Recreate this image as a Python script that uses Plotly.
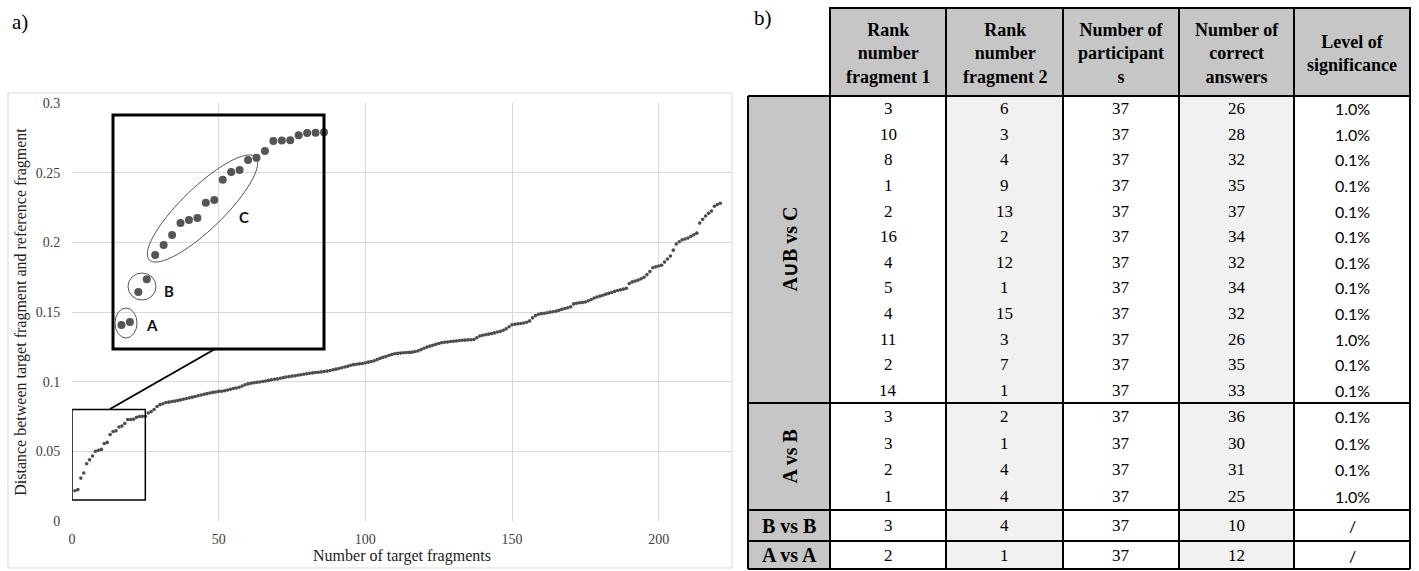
import math
import plotly.graph_objects as go

# ---------------- data ----------------
fragment_index = list(range(1, 222))
distance = [
    0.0217, 0.0225, 0.0308, 0.0344, 0.0411, 0.0439, 0.0467, 0.0500, 0.0508, 0.0514,
    0.0556, 0.0564, 0.0620, 0.0642, 0.0647, 0.0675, 0.0681, 0.0700, 0.0728, 0.0729,
    0.0730, 0.0744, 0.0750, 0.0751, 0.0752,
    0.0775, 0.0785, 0.0800, 0.0822, 0.0835, 0.0842, 0.0850, 0.0853, 0.0858, 0.0860,
    0.0864, 0.0869, 0.0874, 0.0879, 0.0884, 0.0889, 0.0894, 0.0899, 0.0904, 0.0909,
    0.0914, 0.0919, 0.0923, 0.0926, 0.0930,
    0.0931, 0.0935, 0.0940, 0.0946, 0.0951, 0.0955, 0.0960, 0.0969, 0.0978, 0.0984,
    0.0989, 0.0992, 0.0995, 0.0998, 0.1001, 0.1005, 0.1009, 0.1013, 0.1017, 0.1020,
    0.1025, 0.1029, 0.1033, 0.1036, 0.1040,
    0.1043, 0.1046, 0.1050, 0.1053, 0.1056, 0.1060, 0.1063, 0.1066, 0.1068, 0.1070,
    0.1073, 0.1076, 0.1080, 0.1085, 0.1090, 0.1095, 0.1100, 0.1105, 0.1110, 0.1118,
    0.1122, 0.1125, 0.1128, 0.1130, 0.1135,
    0.1140, 0.1145, 0.1150, 0.1158, 0.1167, 0.1174, 0.1180, 0.1188, 0.1195, 0.1200,
    0.1203, 0.1205, 0.1207, 0.1209, 0.1210, 0.1212, 0.1216, 0.1221, 0.1230, 0.1240,
    0.1248, 0.1255, 0.1261, 0.1268, 0.1274,
    0.1279, 0.1283, 0.1285, 0.1288, 0.1290, 0.1292, 0.1295, 0.1297, 0.1298, 0.1300,
    0.1301, 0.1303, 0.1315, 0.1328, 0.1333, 0.1337, 0.1341, 0.1345, 0.1350, 0.1356,
    0.1361, 0.1369, 0.1379, 0.1394, 0.1408,
    0.1412, 0.1415, 0.1418, 0.1421, 0.1426, 0.1436, 0.1458, 0.1474, 0.1484, 0.1488,
    0.1491, 0.1495, 0.1499, 0.1502, 0.1506, 0.1512, 0.1519, 0.1525, 0.1530, 0.1537,
    0.1558, 0.1563, 0.1566, 0.1569, 0.1572,
    0.1580, 0.1590, 0.1600, 0.1608, 0.1614, 0.1620, 0.1628, 0.1634, 0.1640, 0.1648,
    0.1654, 0.1659, 0.1664, 0.1670, 0.1705, 0.1716, 0.1722, 0.1729, 0.1738, 0.1749,
    0.1768, 0.1790, 0.1818, 0.1824, 0.1830,
    0.1836, 0.1858, 0.1880, 0.1902, 0.1944, 0.1988, 0.2004, 0.2018, 0.2024, 0.2031,
    0.2043, 0.2054, 0.2066, 0.2138, 0.2165, 0.2189, 0.2208, 0.2224, 0.2259, 0.2272,
    0.2281,
]
inset_count = 25
x_ticks = [0, 50, 100, 150, 200]

table_headers = ["Rank<br>number<br>fragment 1", "Rank<br>number<br>fragment 2",
                 "Number of<br>participant<br>s", "Number of<br>correct<br>answers",
                 "Level of<br>significance"]
groups = ["A\u222aB vs C", "A vs B", "B vs B", "A vs A"]
group_sizes = [12, 4, 1, 1]
rank_fragment_1 = [3, 10, 8, 1, 2, 16, 4, 5, 4, 11, 2, 14, 3, 3, 2, 1, 3, 2]
rank_fragment_2 = [6, 3, 4, 9, 13, 2, 12, 1, 15, 3, 7, 1, 2, 1, 4, 4, 4, 1]
participants = [37, 37, 37, 37, 37, 37, 37, 37, 37, 37, 37, 37, 37, 37, 37, 37, 37, 37]
correct_answers = [26, 28, 32, 35, 37, 34, 32, 34, 32, 26, 35, 33, 36, 30, 31, 25, 10, 12]
significance = ["1.0%", "1.0%", "0.1%", "0.1%", "0.1%", "0.1%", "0.1%", "0.1%", "0.1%",
                "1.0%", "0.1%", "0.1%", "0.1%", "0.1%", "0.1%", "1.0%", "/", "/"]

# ---------------- helpers ----------------
W, H = 1419, 571
def fx(p):
    return p / W
def fy(p):
    return 1 - p / H

SERIF = "Liberation Serif, Times New Roman, serif"
SANS = "Lato, Liberation Sans, sans-serif"
GRID = "#d9d9d9"

def note(text, x, y, font, **kw):
    d = dict(text=text, x=fx(x), y=fy(y), xref="paper", yref="paper", showarrow=False,
             xanchor="center", yanchor="middle", font=font)
    d.update(kw)
    return d

fig = go.Figure()
fig.add_trace(go.Scatter(x=fragment_index, y=distance, mode="markers",
                         marker=dict(size=3.6, color="#4d4d4d"),
                         xaxis="x", yaxis="y", showlegend=False))
fig.add_trace(go.Scatter(x=fragment_index[:inset_count], y=distance[:inset_count],
                         mode="markers", marker=dict(size=8, color="#555555"),
                         xaxis="x2", yaxis="y2", showlegend=False, cliponaxis=False))

shapes = []
annotations = []

# outer chart border
shapes.append(dict(type="rect", xref="paper", yref="paper", x0=fx(8), x1=fx(732),
                   y0=fy(568), y1=fy(93), line=dict(color=GRID, width=1), layer="below"))
# small zoom box in data coords
shapes.append(dict(type="rect", xref="x", yref="y", x0=0, x1=25, y0=0.015, y1=0.08,
                   line=dict(color="black", width=1.5)))
# connector line
shapes.append(dict(type="line", xref="paper", yref="paper", x0=fx(110), y0=fy(409),
                   x1=fx(215), y1=fy(349), line=dict(color="black", width=2)))
# inset border
shapes.append(dict(type="rect", xref="paper", yref="paper", x0=fx(113), x1=fx(324),
                   y0=fy(349), y1=fy(115), line=dict(color="black", width=3)))
# A and B circles
shapes.append(dict(type="circle", xref="paper", yref="paper", x0=fx(115), x1=fx(137),
                   y0=fy(338), y1=fy(308), line=dict(color="#555555", width=1)))
shapes.append(dict(type="circle", xref="paper", yref="paper", x0=fx(128), x1=fx(156),
                   y0=fy(300), y1=fy(273), line=dict(color="#555555", width=1)))
# C ellipse (rotated) as a path
cx, cy, a, b, th = 202.5, 208.5, 74.0, 21.0, math.radians(44)
pts = []
for k in range(73):
    t = 2 * math.pi * k / 72
    ex = cx + a * math.cos(t) * math.cos(th) + b * math.sin(t) * math.sin(th)
    ey = cy - a * math.cos(t) * math.sin(th) + b * math.sin(t) * math.cos(th)
    pts.append(f"{fx(ex):.5f},{fy(ey):.5f}")
shapes.append(dict(type="path", xref="paper", yref="paper",
                   path="M " + " L ".join(pts) + " Z", line=dict(color="#555555", width=1)))

for txt, x, y in [("A", 152, 325), ("B", 169, 291), ("C", 244, 217)]:
    annotations.append(note(f"<b>{txt}</b>", x, y, dict(family=SANS, size=15, color="#111")))

annotations.append(note("a)", 10, 22, dict(family=SERIF, size=21, color="black"), xanchor="left"))
annotations.append(note("b)", 752, 18, dict(family=SERIF, size=21, color="black"), xanchor="left"))

# ---------------- table ----------------
col_edges = [748, 830, 946, 1063, 1179, 1294, 1410]
head_top, head_bot = 8, 96
group_edges = [96, 403, 510, 541, 569]
HEAD_FILL = "#c6c6c6"
LW = 2

for ci in range(1, 6):
    fill = "#f1f1f1" if ci in (2, 4) else "white"
    shapes.append(dict(type="rect", xref="paper", yref="paper", x0=fx(col_edges[ci]),
                       x1=fx(col_edges[ci + 1]), y0=fy(group_edges[-1]), y1=fy(group_edges[0]),
                       fillcolor=fill, line=dict(width=0), layer="below"))
shapes.append(dict(type="rect", xref="paper", yref="paper", x0=fx(col_edges[0]), x1=fx(col_edges[1]),
                   y0=fy(group_edges[-1]), y1=fy(group_edges[0]), fillcolor=HEAD_FILL,
                   line=dict(width=0), layer="below"))
for ci in range(1, 6):
    shapes.append(dict(type="rect", xref="paper", yref="paper", x0=fx(col_edges[ci]),
                       x1=fx(col_edges[ci + 1]), y0=fy(head_bot), y1=fy(head_top),
                       fillcolor=HEAD_FILL, line=dict(color="black", width=LW), layer="below"))
    annotations.append(note(f"<b>{table_headers[ci - 1]}</b>",
                            (col_edges[ci] + col_edges[ci + 1]) / 2, (head_top + head_bot) / 2 + 1,
                            dict(family=SERIF, size=18, color="black")))
for e in col_edges:
    shapes.append(dict(type="line", xref="paper", yref="paper", x0=fx(e), x1=fx(e),
                       y0=fy(group_edges[-1]), y1=fy(group_edges[0]),
                       line=dict(color="black", width=LW)))
for e in group_edges:
    shapes.append(dict(type="line", xref="paper", yref="paper", x0=fx(col_edges[0]),
                       x1=fx(col_edges[-1]), y0=fy(e), y1=fy(e),
                       line=dict(color="black", width=LW)))

columns = [rank_fragment_1, rank_fragment_2, participants, correct_answers, significance]
row = 0
for gi, (gname, n) in enumerate(zip(groups, group_sizes)):
    top, bot = group_edges[gi], group_edges[gi + 1]
    rh = (bot - top) / n
    annotations.append(note(f"<b>{gname}</b>", (col_edges[0] + col_edges[1]) / 2, (top + bot) / 2,
                            dict(family=SERIF, size=20, color="black"),
                            textangle=-90 if n > 1 else 0))
    for k in range(n):
        yc = top + (k + 0.5) * rh
        for ci, col in enumerate(columns):
            fam = SANS if ci == 4 else SERIF
            size = 16 if ci == 4 else 17
            annotations.append(note(str(col[row]), (col_edges[ci + 1] + col_edges[ci + 2]) / 2, yc,
                                    dict(family=fam, size=size, color="black")))
        row += 1

fig.update_layout(
    width=W, height=H, margin=dict(l=0, r=0, t=0, b=0, autoexpand=False),
    paper_bgcolor="white", plot_bgcolor="rgba(0,0,0,0)",
    showlegend=False,
    xaxis=dict(domain=[fx(72), fx(732)], range=[0, 225], tickvals=x_ticks,
               showgrid=True, gridcolor=GRID, gridwidth=1, zeroline=False, showline=False,
               ticks="outside", ticklen=5, tickcolor="rgba(0,0,0,0)",
               tickfont=dict(family=SERIF, size=14, color="#404040"),
               title=dict(text="Number of target fragments", standoff=3,
                          font=dict(family=SERIF, size=16, color="#222")),
               anchor="y"),
    yaxis=dict(domain=[fy(521), fy(103)], range=[0, 0.3], dtick=0.05, tick0=0,
               showgrid=True, gridcolor=GRID, gridwidth=1, zeroline=False, showline=False,
               ticks="outside", ticklen=8, tickcolor="rgba(0,0,0,0)",
               tickfont=dict(family=SERIF, size=14, color="#404040"),
               title=dict(text="Distance between target fragment and reference fragment",
                          standoff=5, font=dict(family=SERIF, size=16, color="#222")),
               anchor="x"),
    xaxis2=dict(domain=[fx(113), fx(324)], range=[0, 25], visible=False, anchor="y2"),
    yaxis2=dict(domain=[fy(349), fy(115)], range=[0.015, 0.08], visible=False, anchor="x2"),
    shapes=shapes, annotations=annotations,
)

fig.write_html("out.html",
               config={"displayModeBar": False},
               post_script="document.body.style.margin='0px';"
                           "document.body.style.overflow='hidden';")
